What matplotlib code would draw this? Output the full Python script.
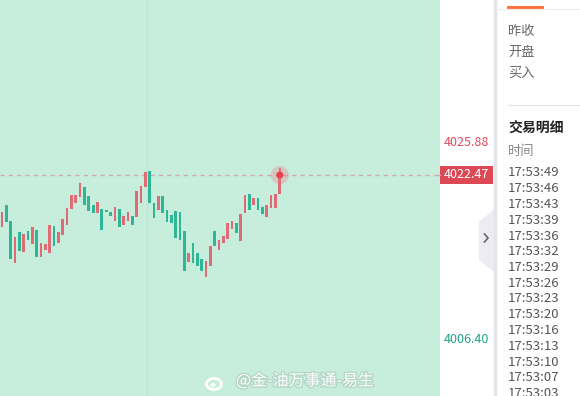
import matplotlib
matplotlib.use('Agg')
import matplotlib.pyplot as plt
import matplotlib.patheffects as pe
from matplotlib.patches import Polygon, Rectangle, Ellipse
import numpy as np

plt.rcParams['font.family'] = ['Noto Sans CJK SC', 'DejaVu Sans']

# candle bodies (open / close)
opens = [4017.30, 4019.49, 4017.90, 4013.72, 4016.80, 4014.81, 4016.90, 4015.61, 4017.00, 4014.32,
         4015.01, 4014.71, 4017.40, 4015.71, 4016.50, 4017.50, 4019.09, 4019.69, 4020.28, 4021.28,
         4020.38, 4019.49, 4018.69, 4019.09, 4018.99, 4018.79, 4017.90, 4019.09, 4017.50, 4017.90,
         4018.39, 4018.29, 4019.69, 4021.28, 4022.87, 4019.69, 4018.99, 4020.38, 4018.99, 4018.49,
         4018.89, 4018.79, 4016.90, 4013.82, 4015.71, 4014.71, 4014.12, 4012.33, 4013.42, 4016.90,
         4015.01, 4015.71, 4016.11, 4017.10, 4017.70, 4015.91, 4018.69, 4020.58, 4019.49, 4020.18,
         4019.29, 4018.29, 4019.19, 4019.19, 4020.58]
closes = [4018.79, 4017.80, 4014.12, 4016.31, 4014.91, 4016.60, 4016.01, 4017.30, 4014.32, 4015.71,
          4015.61, 4017.50, 4015.41, 4016.80, 4018.10, 4019.19, 4020.48, 4020.48, 4021.67, 4019.49,
          4018.89, 4018.69, 4019.79, 4017.00, 4018.79, 4018.39, 4019.29, 4017.30, 4018.39, 4018.79,
          4017.50, 4020.88, 4021.38, 4022.77, 4019.69, 4018.20, 4020.38, 4018.69, 4017.80, 4017.70,
          4016.21, 4016.01, 4012.93, 4014.71, 4013.72, 4013.42, 4012.93, 4013.92, 4015.41, 4015.41,
          4016.01, 4016.40, 4017.70, 4017.90, 4016.70, 4018.59, 4020.48, 4018.99, 4020.18, 4018.99,
          4018.59, 4019.49, 4020.48, 4020.58, 4022.47]
last_high = 4023.17
last_price = 4022.47
axis_high = 4025.88
axis_low = 4006.40

side_labels = ['昨收', '开盘', '买入']
trade_title = '交易明细'
time_header = '时间'
trade_times = ['17:53:49', '17:53:46', '17:53:43', '17:53:39', '17:53:36', '17:53:32',
               '17:53:29', '17:53:26', '17:53:23', '17:53:20', '17:53:16', '17:53:13',
               '17:53:10', '17:53:07', '17:53:03']
watermark = '@金-油万事通-易生'

up_color = '#de6b75'
down_color = '#2db797'

fig = plt.figure(figsize=(5.8, 3.96), dpi=100, facecolor='white')

# candlestick area
ax = fig.add_axes([0, 0, 440 / 580, 1])
ax.set_facecolor('#c7eddc')
for s in ax.spines.values():
    s.set_visible(False)
ax.set_xticks([])
ax.set_yticks([])

o = np.array(opens)
c = np.array(closes)
x = np.arange(len(o))
colors = [up_color if cc >= oo else down_color for oo, cc in zip(o, c)]
ax.axvline(33.4, color='#c0e6d4', lw=1, zorder=0)
ax.bar(x, np.maximum(np.abs(c - o), 0.15), bottom=np.minimum(o, c), width=0.62, color=colors, zorder=2)
ax.vlines(x[-1], c[-1], last_high, color=up_color, lw=1.3, zorder=2)
ax.axhline(last_price, color='#d6a9ad', lw=1, ls=(0, (3, 3)), zorder=1)
ax.scatter(x[-1], last_price, s=170, color='#f07080', alpha=0.3, edgecolors='none', zorder=3)
ax.scatter(x[-1], last_price, s=26, color='#e8414f', edgecolors='none', zorder=4)
ax.set_xlim(-0.46, 100.9)
ax.set_ylim(4000.50, 4039.87)

# overlay in pixel coordinates for the side panel
ov = fig.add_axes([0, 0, 1, 1])
ov.set_xlim(0, 580)
ov.set_ylim(396, 0)
ov.axis('off')
ov.patch.set_alpha(0)

# price labels
ov.text(444, 143, f'{axis_high:.2f}', color='#e34b5a', fontsize=9, va='center')
ov.text(444, 339.5, f'{axis_low:.2f}', color='#1fa386', fontsize=9, va='center')
ov.plot([437, 440], [175, 175], color='#d6a9ad', lw=1)
ov.add_patch(Rectangle((440, 166), 53, 18, color='#dc4955', lw=0))
ov.text(444, 175, f'{last_price:.2f}', color='white', fontsize=9, va='center')

# side panel
ov.plot([495, 495], [0, 396], color='#e4e4ed', lw=2.5)
ov.add_patch(Polygon([(494, 209), (479, 222), (479, 260), (494, 272)], closed=True,
                     color='#ececf2', lw=0))
ov.plot([484.5, 488, 484.5], [234, 238, 242], color='#666666', lw=1.2)
ov.plot([498, 580], [8.5, 8.5], color='#ececec', lw=0.8)
ov.plot([508, 542], [6.5, 6.5], color='#ff6a33', lw=2)
for i, lab in enumerate(side_labels):
    ov.text(508, 31 + i * 21, lab, color='#666666', fontsize=9.5, va='center')
ov.plot([508, 580], [105, 105], color='#e6e6e6', lw=1)
ov.text(508, 129, trade_title, color='#222222', fontsize=10, fontweight='bold', va='center')
ov.text(508, 151, time_header, color='#888888', fontsize=9.5, va='center')
for i, t in enumerate(trade_times):
    ov.text(508, 173 + i * 15.75, t, color='#555555', fontsize=9.5, va='center')

# watermark
glow = [pe.withStroke(linewidth=2, foreground='#b5d6c8')]
ov.add_patch(Ellipse((214, 384), 15, 11, fill=False, ec='white', lw=2))
ov.add_patch(Ellipse((213, 385), 5, 4, color='white', lw=0))
ov.text(236, 381, watermark, color='white', fontsize=11.5, va='center', path_effects=glow)

fig.savefig('out.png', dpi=100, facecolor='white')
